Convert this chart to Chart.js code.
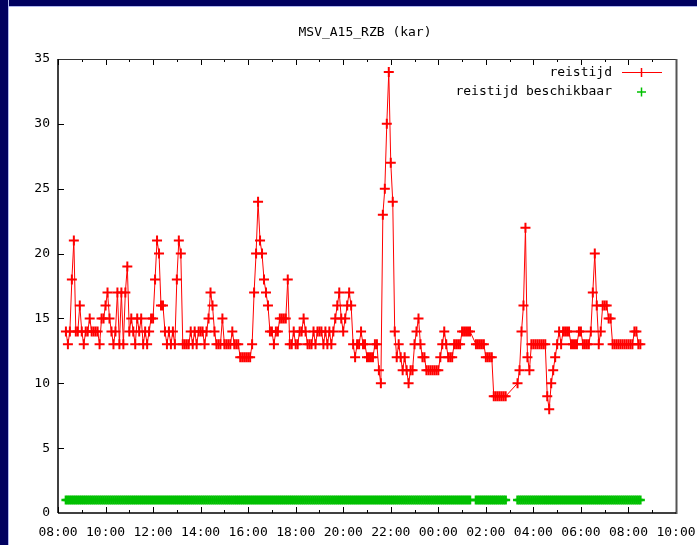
<!DOCTYPE html>
<html><head><meta charset="utf-8">
<script src="https://cdn.jsdelivr.net/npm/chart.js@4/dist/chart.umd.min.js"></script>
<style>
html,body{margin:0;padding:0;background:#fff;}
#wrap{position:relative;width:697px;height:545px;overflow:hidden;background:#fff;}
canvas{position:absolute;left:0;top:0;}
#ftop{position:absolute;left:0;top:0;width:697px;height:6px;background:#000060;border-bottom:1px solid #b0b8f0;}
#fleft{position:absolute;left:0;top:0;width:8px;height:545px;background:#000060;border-right:1px solid #b0b8f0;}
</style></head><body>
<div id="wrap"><canvas id="c" width="697" height="545"></canvas><div id="ftop"></div><div id="fleft"></div></div>
<script>
const TITLE = 'MSV_A15_RZB (kar)';
const SERIES_NAMES = ['reistijd', 'reistijd beschikbaar'];
const X_TICK_LABELS = ['08:00','10:00','12:00','14:00','16:00','18:00','20:00','22:00','00:00','02:00','04:00','06:00','08:00','10:00'];
const Y_MIN = 0, Y_MAX = 35, Y_STEP = 5;
const X_MIN = 0, X_MAX = 1560;           // minutes after 08:00
const STEP = 5;                          // sample interval, minutes
const SEG1_START = 20;                   // 08:20
const SEG2_START = 1055;                 // 01:35
const SEG3_START = 1160;                 // 03:20
const SEG1 = [
 14,13,14,18,21,14,14,16,14,13,14,14,
 15,14,14,14,14,13,15,15,16,17,15,14,
 13,14,17,13,17,13,17,19,14,15,14,13,
 15,14,15,13,14,13,14,15,15,18,21,20,
 16,16,14,13,14,13,14,13,18,21,20,13,
 13,13,13,14,13,14,13,14,14,14,13,14,
 15,17,16,14,13,13,13,15,13,13,13,13,
 14,13,13,13,12,12,12,12,12,12,13,17,
 20,24,21,20,18,17,16,14,14,13,14,14,
 15,15,15,15,18,13,13,14,13,13,14,14,
 15,14,13,13,13,14,13,14,14,14,13,14,
 13,14,13,14,15,16,17,15,14,15,16,17,
 16,13,12,13,13,14,13,13,12,12,12,12,
 13,13,11,10,23,25,30,34,27,24,14,12,
 13,12,11,12,11,10,11,11,13,14,15,13,
 12,12,11,11,11,11,11,11,11,12,13,14,
 13,12,12,12,13,13,13,13,14,14,14,14,
 14
];
const SEG2 = [13,13,13,13,13,12,12,12,12,9,9,9,9,9,9,9];
const SEG3 = [
 10,11,14,16,22,12,11,13,13,13,13,13,
 13,13,13,9,8,10,11,12,13,14,13,14,
 14,14,14,13,13,13,13,14,14,13,13,13,
 13,14,17,20,16,13,14,16,16,16,15,15,
 13,13,13,13,13,13,13,13,13,13,13,14,
 14,13,13
];
const AVAILABLE_VALUE = 1;

const RED = '#ff0000', GREEN = '#00c000';
const FONT = '"DejaVu Sans Mono", monospace';

function pts(start, vals){ return vals.map((v,i)=>({x:start+i*STEP, y:v})); }
const redPts = [...pts(SEG1_START,SEG1), ...pts(SEG2_START,SEG2), ...pts(SEG3_START,SEG3)];
const greenPts = redPts.map(p=>({x:p.x, y:AVAILABLE_VALUE}));

const decor = {
  id:'decor',
  afterDatasetsDraw(chart){
    const {ctx, chartArea:a, scales:{x,y}} = chart;
    ctx.save();
    ctx.lineWidth = 1;
    ctx.strokeStyle = '#000';
    const line=(x1,y1,x2,y2)=>{ctx.beginPath();ctx.moveTo(x1,y1);ctx.lineTo(x2,y2);ctx.stroke();};
    for (let v=X_MIN; v<=X_MAX; v+=60){
      const px = Math.round(x.getPixelForValue(v))+0.5;
      const L = (v%120===0)?6:3;
      line(px,a.bottom,px,a.bottom-L);
      line(px,a.top,px,a.top+L);
    }
    for (let v=Y_MIN+Y_STEP; v<Y_MAX; v+=Y_STEP){
      const py = Math.round(y.getPixelForValue(v))+0.5;
      line(a.left,py,a.left+6,py);
    }
    // frame
    ctx.strokeStyle = '#333';
    line(a.left, a.top+0.5, a.right, a.top+0.5);
    ctx.lineWidth = 2; ctx.strokeStyle = '#555';
    line(a.right+0.5, a.top, a.right+0.5, a.bottom+1);
    ctx.strokeStyle = '#000'; ctx.lineWidth = 1.5;
    line(a.left, a.top, a.left, a.bottom);
    line(a.left, a.bottom, a.right, a.bottom);
    // title
    ctx.fillStyle = '#000';
    ctx.font = '13px ' + FONT;
    ctx.textBaseline = 'middle';
    ctx.textAlign = 'center';
    ctx.fillText(TITLE, 365, 33);
    // legend
    ctx.textAlign = 'right';
    ctx.fillText(SERIES_NAMES[0], 612, 73);
    ctx.fillText(SERIES_NAMES[1], 612, 92);
    ctx.strokeStyle = RED; ctx.lineWidth = 1;
    line(622, 72.5, 662, 72.5);
    ctx.lineWidth = 1.5;
    line(641.5, 68, 641.5, 77);
    ctx.strokeStyle = GREEN; ctx.lineWidth = 1.5;
    line(637, 92, 646, 92);
    line(641.5, 87.5, 641.5, 96.5);
    ctx.restore();
  }
};

new Chart(document.getElementById('c'), {
  type:'line',
  data:{datasets:[
    {label:SERIES_NAMES[0], data:redPts, borderColor:RED, borderWidth:1, tension:0, fill:false,
     pointStyle:'cross', pointRadius:5, pointBorderWidth:2, pointBorderColor:RED, pointBackgroundColor:RED},
    {label:SERIES_NAMES[1], data:greenPts, showLine:false, borderColor:GREEN,
     pointStyle:'cross', pointRadius:4.5, pointBorderWidth:2.5, pointBorderColor:GREEN, pointBackgroundColor:GREEN}
  ]},
  options:{
    responsive:false, animation:false, events:[],
    layout:{padding:{left:0, right:21, top:59, bottom:0}},
    plugins:{legend:{display:false}, tooltip:{enabled:false}, title:{display:false}},
    scales:{
      x:{type:'linear', min:X_MIN, max:X_MAX,
         grid:{display:false, drawTicks:false}, border:{display:false},
         ticks:{stepSize:120, autoSkip:false, maxRotation:0, color:'#000', padding:12,
                font:{family:FONT, size:13},
                callback:(v)=> X_TICK_LABELS[Math.round((v-X_MIN)/120)] ?? ''},
         afterFit:(s)=>{ s.height = 32; s.paddingLeft = 0; s.paddingRight = 0; }},
      y:{min:Y_MIN, max:Y_MAX,
         grid:{display:false, drawTicks:false}, border:{display:false},
         ticks:{stepSize:Y_STEP, color:'#000', padding:8, font:{family:FONT, size:13}},
         afterFit:(s)=>{ s.width = 58; s.paddingTop = 0; s.paddingBottom = 0; }}
    }
  },
  plugins:[decor]
});
</script>
</body></html>
